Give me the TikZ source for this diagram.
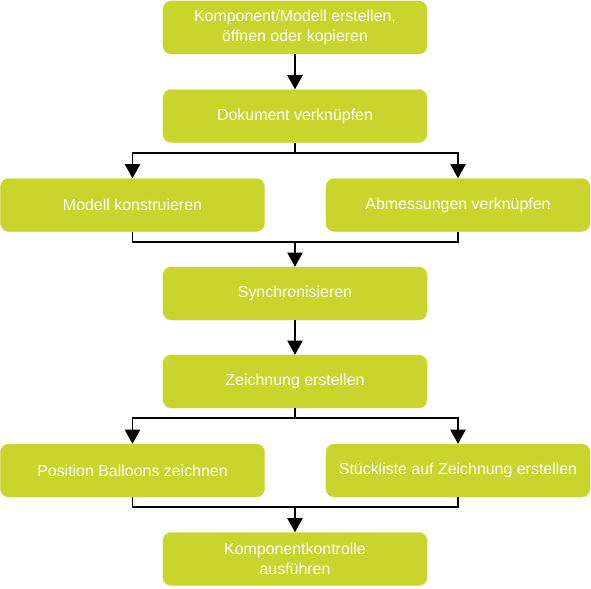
\documentclass[tikz,border=0pt]{standalone}
\usepackage{fontspec}
\setmainfont{Liberation Sans}
\usetikzlibrary{arrows.meta}
\definecolor{lime}{RGB}{201,212,44}
\tikzset{
  stepbox/.style={fill=lime, draw=lime!85!white, rounded corners=7pt,
    minimum width=7.92cm, minimum height=1.59cm, align=center,
    text=white, font=\fontsize{13.6}{17}\selectfont, inner sep=0pt},
  flow/.style={line width=1.1pt, -{Triangle[width=13pt,length=12pt]}},
  line/.style={line width=1.1pt}
}
\begin{document}
\begin{tikzpicture}[x=0.03cm, y=-0.03cm]
    \useasboundingbox (0,0) rectangle (591,588);
    % boxes
    \node[stepbox] (komp) at (295,27.5) {Komponent/Modell erstellen,\\öffnen oder kopieren};
    \node[stepbox] (dok) at (295,116) {Dokument verknüpfen};
    \node[stepbox] (mod) at (132.5,205) {Modell konstruieren};
    \node[stepbox] (abm) at (458,205) {Abmessungen verknüpfen};
    \node[stepbox] (syn) at (295,293.5) {Synchronisieren};
    \node[stepbox] (zei) at (295,381.5) {Zeichnung erstellen};
    \node[stepbox] (pos) at (132.5,470.5) {Position Balloons zeichnen};
    \node[stepbox] (stl) at (458,470.5) {Stückliste auf Zeichnung erstellen};
    \node[stepbox] (kon) at (295,559) {Komponentkontrolle\\ausführen};
    % junctions
    \coordinate (j1) at (295,153);
    \coordinate (j2) at (295,242);
    \coordinate (j3) at (295,418);
    \coordinate (j4) at (295,507);
    % connectors
    \draw[flow] (komp) -- (dok);
    \draw[line] (dok.south) -- (j1);
    \draw[flow] (j1) -| (mod.north);
    \draw[flow] (j1) -| (abm.north);
    \draw[line] (mod.south) |- (j2);
    \draw[line] (abm.south) |- (j2);
    \draw[flow] (j2) -- (syn.north);
    \draw[flow] (syn) -- (zei);
    \draw[line] (zei.south) -- (j3);
    \draw[flow] (j3) -| (pos.north);
    \draw[flow] (j3) -| (stl.north);
    \draw[line] (pos.south) |- (j4);
    \draw[line] (stl.south) |- (j4);
    \draw[flow] (j4) -- (kon.north);
\end{tikzpicture}
\end{document}
